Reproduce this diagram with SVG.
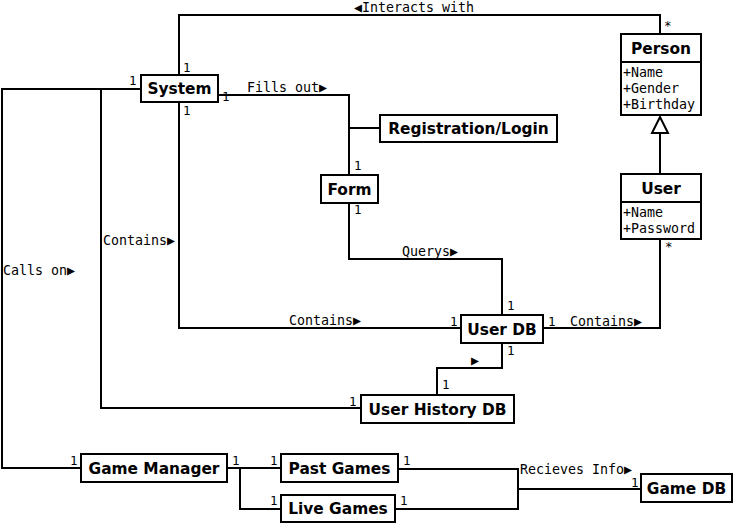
<svg xmlns="http://www.w3.org/2000/svg" width="734" height="526" viewBox="0 0 734 526">
<style>
.box{fill:#fff;stroke:#000;stroke-width:2}
.ln{fill:none;stroke:#000;stroke-width:2}
.t{font-family:"DejaVu Sans",sans-serif;font-weight:bold;font-size:15.4px;text-anchor:middle;fill:#000}
.a{font-family:"DejaVu Sans Mono",monospace;font-size:13.3px;fill:#000}
.m{font-family:"DejaVu Sans Mono",monospace;font-size:12.5px;fill:#000}
</style>
<rect width="734" height="526" fill="#fff"/>
<g id="connectors">
<path class="ln" d="M179,75 V15 H660 V34"/>
<path class="ln" d="M218,95 H349 V128 H380"/>
<path class="ln" d="M349,128 V175"/>
<path class="ln" d="M349,203 V259 H502 V315"/>
<path class="ln" d="M179,102 V328 H461"/>
<path class="ln" d="M543,328 H660 V239"/>
<path class="ln" d="M660,174 V133"/>
<polygon points="660,117 652,133 668,133" fill="#fff" stroke="#000" stroke-width="2"/>
<path class="ln" d="M502,343 V368 H437 V395"/>
<path class="ln" d="M141,89 H2 V468 H81"/>
<path class="ln" d="M101,89 V408 H361"/>
<path class="ln" d="M227,468 H281"/>
<path class="ln" d="M240,468 V509 H281"/>
<path class="ln" d="M398,469 H518 V489 H641"/>
<path class="ln" d="M395,509 H518 V489"/>
<text class="a" x="354" y="12">◀Interacts with</text>
<text class="a" x="247" y="92">Fills out▶</text>
<text class="a" x="402" y="256">Querys▶</text>
<text class="a" x="103" y="245">Contains▶</text>
<text class="a" x="3" y="275">Calls on▶</text>
<text class="a" x="289" y="325">Contains▶</text>
<text class="a" x="570" y="326">Contains▶</text>
<text class="a" x="471" y="365">▶</text>
<text class="a" x="520" y="474">Recieves Info▶</text>
<text class="m" x="183" y="72">1</text>
<text class="m" x="129" y="85">1</text>
<text class="m" x="222" y="101">1</text>
<text class="m" x="183" y="115">1</text>
<text class="m" x="664" y="30">*</text>
<text class="m" x="354" y="170">1</text>
<text class="m" x="354" y="214">1</text>
<text class="m" x="507" y="310">1</text>
<text class="m" x="450" y="326">1</text>
<text class="m" x="548" y="326">1</text>
<text class="m" x="507" y="355">1</text>
<text class="m" x="442" y="389">1</text>
<text class="m" x="349" y="406">1</text>
<text class="m" x="665" y="251">*</text>
<text class="m" x="70" y="465">1</text>
<text class="m" x="232" y="465">1</text>
<text class="m" x="270" y="465">1</text>
<text class="m" x="270" y="505">1</text>
<text class="m" x="403" y="465">1</text>
<text class="m" x="400" y="505">1</text>
<text class="m" x="631" y="487">1</text>
</g>
<g id="system"><rect class="box" x="141" y="75" width="77" height="27"/><text class="t" x="179.5" y="94">System</text></g>
<g id="person"><rect class="box" x="621" y="34" width="80" height="81"/><line class="ln" x1="621" y1="62" x2="701" y2="62"/><text class="t" x="661" y="54">Person</text>
<text class="a" x="623" y="77">+Name</text><text class="a" x="623" y="93">+Gender</text><text class="a" x="623" y="109">+Birthday</text></g>
<g id="user"><rect class="box" x="621" y="174" width="80" height="65"/><line class="ln" x1="621" y1="202" x2="701" y2="202"/><text class="t" x="661" y="194">User</text>
<text class="a" x="623" y="217">+Name</text><text class="a" x="623" y="233">+Password</text></g>
<g id="registration"><rect class="box" x="380" y="115" width="177" height="27"/><text class="t" x="468.5" y="134">Registration/Login</text></g>
<g id="form"><rect class="box" x="321" y="175" width="57" height="28"/><text class="t" x="349.5" y="194.5">Form</text></g>
<g id="userdb"><rect class="box" x="461" y="315" width="82" height="28"/><text class="t" x="502" y="334.5">User DB</text></g>
<g id="userhistorydb"><rect class="box" x="361" y="395" width="153" height="28"/><text class="t" x="437.5" y="414.5">User History DB</text></g>
<g id="gamemanager"><rect class="box" x="81" y="454" width="146" height="28"/><text class="t" x="154" y="474">Game Manager</text></g>
<g id="pastgames"><rect class="box" x="281" y="454" width="117" height="28"/><text class="t" x="339.5" y="474">Past Games</text></g>
<g id="livegames"><rect class="box" x="281" y="495" width="114" height="27"/><text class="t" x="338" y="514">Live Games</text></g>
<g id="gamedb"><rect class="box" x="641" y="474" width="91" height="28"/><text class="t" x="686.5" y="494">Game DB</text></g>
</svg>
